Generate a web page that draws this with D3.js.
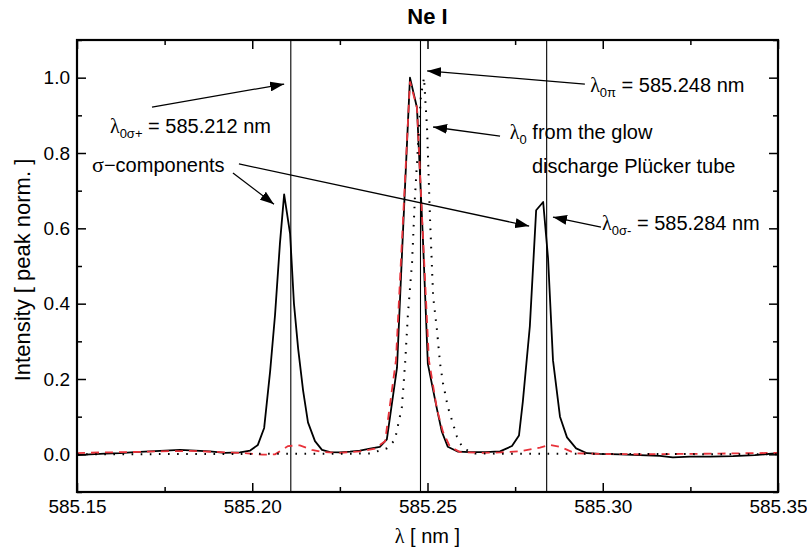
<!DOCTYPE html>
<html>
<head>
<meta charset="utf-8">
<style>
  body { margin: 0; background: #fff; }
  text { font-family: "Liberation Sans", Arial, Helvetica, sans-serif; }
  .greek { font-family: "Liberation Serif", "Times New Roman", serif; }
</style>
</head>
<body>
<script src="https://cdn.jsdelivr.net/npm/d3@7"></script>
<script>
var width = 807, height = 548;
var margin = {top: 40, right: 29, bottom: 56, left: 77};

// measured Zeeman pattern (solid black)
var measWl = [585.1500, 585.1537, 585.1580, 585.1623, 585.1665, 585.1708, 585.1751, 585.1794, 585.1837, 585.1879,
  585.1922, 585.1965, 585.1994, 585.2016, 585.2034, 585.2051, 585.2065, 585.2079, 585.2091, 585.2108,
  585.2119, 585.2131, 585.2145, 585.2159, 585.2179, 585.2199, 585.2222, 585.2250, 585.2279, 585.2307,
  585.2336, 585.2364, 585.2384, 585.2413, 585.2430, 585.2450, 585.2470, 585.2487, 585.2501, 585.2527,
  585.2541, 585.2558, 585.2587, 585.2621, 585.2664, 585.2707, 585.2741, 585.2761, 585.2772, 585.2792,
  585.2810, 585.2830, 585.2844, 585.2858, 585.2878, 585.2898, 585.2924, 585.2955, 585.2992, 585.3049,
  585.3106, 585.3163, 585.3200, 585.3249, 585.3306, 585.3372, 585.3434, 585.3500];
var measInt = [-0.002, 0.000, 0.002, 0.003, 0.006, 0.008, 0.010, 0.012, 0.010, 0.008,
  0.004, 0.005, 0.010, 0.025, 0.070, 0.220, 0.370, 0.560, 0.690, 0.585,
  0.400, 0.280, 0.170, 0.085, 0.035, 0.012, 0.006, 0.005, 0.007, 0.010,
  0.015, 0.020, 0.040, 0.230, 0.590, 1.000, 0.920, 0.570, 0.240, 0.120,
  0.060, 0.020, 0.007, 0.006, 0.006, 0.008, 0.022, 0.050, 0.140, 0.340,
  0.648, 0.670, 0.520, 0.250, 0.100, 0.045, 0.016, 0.003, 0.001, 0.000,
  -0.002, -0.004, -0.008, -0.006, -0.006, -0.005, -0.002, 0.003];

// pi component (red dashed)
var piWl = [585.1500, 585.1566, 585.1651, 585.1737, 585.1822, 585.1908, 585.1979, 585.2028, 585.2065, 585.2102,
  585.2136, 585.2170, 585.2199, 585.2250, 585.2307, 585.2350, 585.2379, 585.2410, 585.2430, 585.2450,
  585.2470, 585.2487, 585.2504, 585.2527, 585.2544, 585.2564, 585.2593, 585.2650, 585.2707, 585.2764,
  585.2821, 585.2850, 585.2878, 585.2921, 585.2992, 585.3106, 585.3220, 585.3334, 585.3500];
var piInt = [0.003, 0.005, 0.006, 0.008, 0.009, 0.006, 0.003, -0.001, 0.000, 0.022,
  0.024, 0.012, 0.006, 0.004, 0.008, 0.015, 0.035, 0.250, 0.620, 0.990,
  0.920, 0.580, 0.250, 0.120, 0.060, 0.020, 0.006, 0.004, 0.005, 0.008,
  0.018, 0.025, 0.020, 0.003, 0.001, 0.000, 0.001, 0.002, 0.004];

// glow discharge Pluecker tube (dotted)
var tubeWl = [585.1500, 585.2336, 585.2384, 585.2407, 585.2427, 585.2436, 585.2444, 585.2456, 585.2464, 585.2473,
  585.2481, 585.2490, 585.2499, 585.2507, 585.2516, 585.2527, 585.2536, 585.2544, 585.2558, 585.2584,
  585.2601, 585.2636, 585.3500];
var tubeInt = [0.000, 0.002, 0.016, 0.038, 0.126, 0.240, 0.370, 0.510, 0.680, 0.820,
  0.950, 1.000, 0.860, 0.630, 0.420, 0.330, 0.240, 0.190, 0.126, 0.047,
  0.016, 0.002, 0.000];

var markWl = [585.211, 585.248, 585.284];
var xTicks = [585.15, 585.20, 585.25, 585.30, 585.35];
var xMinor = [585.175, 585.225, 585.275, 585.325];
var yTicks = [0.0, 0.2, 0.4, 0.6, 0.8, 1.0];
var yMinor = [-0.1, 0.1, 0.3, 0.5, 0.7, 0.9, 1.1];

var svg = d3.select('body').append('svg').attr('width', width).attr('height', height);

var x = d3.scaleLinear().domain([585.15, 585.35]).range([margin.left, width - margin.right]);
var y = d3.scaleLinear().domain([-0.1, 1.1]).range([height - margin.bottom, margin.top]);

var defs = svg.append('defs');
defs.append('clipPath').attr('id', 'clip').append('rect')
  .attr('x', margin.left).attr('y', margin.top)
  .attr('width', width - margin.left - margin.right)
  .attr('height', height - margin.top - margin.bottom);
defs.append('marker').attr('id', 'head')
  .attr('viewBox', '0 0 14 10').attr('refX', 14).attr('refY', 5)
  .attr('markerWidth', 14).attr('markerHeight', 10)
  .attr('markerUnits', 'userSpaceOnUse').attr('orient', 'auto')
  .append('path').attr('d', 'M0,0 L14,5 L0,10 Z').attr('fill', '#000');

// axes, ticks pointing inwards
var yBot = height - margin.bottom, yTop = margin.top;
var xLeft = margin.left, xRight = width - margin.right;

function styleAxis(g) {
  g.select('.domain').remove();
  g.selectAll('line').attr('stroke', '#000').attr('stroke-width', 1.5);
  g.selectAll('text').attr('font-size', 19).attr('fill', '#000')
    .attr('font-family', '"Liberation Sans", Arial, sans-serif');
}
svg.append('g').attr('transform', 'translate(0,' + yBot + ')')
  .call(d3.axisBottom(x).tickValues(xTicks).tickSize(-9).tickPadding(8).tickFormat(d3.format('.2f')))
  .call(styleAxis);
svg.append('g').attr('transform', 'translate(0,' + yBot + ')')
  .call(d3.axisBottom(x).tickValues(xMinor).tickSize(-5).tickFormat(''))
  .call(styleAxis);
svg.append('g').attr('transform', 'translate(0,' + yTop + ')')
  .call(d3.axisTop(x).tickValues(xTicks).tickSize(-9).tickFormat(''))
  .call(styleAxis);
svg.append('g').attr('transform', 'translate(0,' + yTop + ')')
  .call(d3.axisTop(x).tickValues(xMinor).tickSize(-5).tickFormat(''))
  .call(styleAxis);
svg.append('g').attr('transform', 'translate(' + xLeft + ',0)')
  .call(d3.axisLeft(y).tickValues(yTicks).tickSize(-9).tickPadding(7).tickFormat(d3.format('.1f')))
  .call(styleAxis);
svg.append('g').attr('transform', 'translate(' + xLeft + ',0)')
  .call(d3.axisLeft(y).tickValues(yMinor).tickSize(-5).tickFormat(''))
  .call(styleAxis);
svg.append('g').attr('transform', 'translate(' + xRight + ',0)')
  .call(d3.axisRight(y).tickValues(yTicks).tickSize(-9).tickFormat(''))
  .call(styleAxis);
svg.append('g').attr('transform', 'translate(' + xRight + ',0)')
  .call(d3.axisRight(y).tickValues(yMinor).tickSize(-5).tickFormat(''))
  .call(styleAxis);

var plot = svg.append('g').attr('clip-path', 'url(#clip)');

// vertical marker lines
plot.selectAll('.mark').data(markWl).join('line')
  .attr('x1', d => x(d)).attr('x2', d => x(d))
  .attr('y1', yTop).attr('y2', yBot)
  .attr('stroke', '#000').attr('stroke-width', 1.1);

var line = d3.line().x(d => x(d[0])).y(d => y(d[1]));

plot.append('path').datum(d3.zip(measWl, measInt)).attr('d', line)
  .attr('fill', 'none').attr('stroke', '#000').attr('stroke-width', 1.8)
  .attr('stroke-linejoin', 'round');
plot.append('path').datum(d3.zip(piWl, piInt)).attr('d', line)
  .attr('fill', 'none').attr('stroke', '#e8323a').attr('stroke-width', 1.8)
  .attr('stroke-dasharray', '8,6');
plot.append('path').datum(d3.zip(tubeWl, tubeInt)).attr('d', line)
  .attr('fill', 'none').attr('stroke', '#000').attr('stroke-width', 2)
  .attr('stroke-dasharray', '1.6,7.5');

// frame
svg.append('rect').attr('x', xLeft).attr('y', yTop)
  .attr('width', xRight - xLeft).attr('height', yBot - yTop)
  .attr('fill', 'none').attr('stroke', '#000').attr('stroke-width', 2.2);

// titles
svg.append('text').attr('x', (xLeft + xRight) / 2).attr('y', 24)
  .attr('text-anchor', 'middle').attr('font-size', 22).attr('font-weight', 'bold').text('Ne I');

var xt = svg.append('text').attr('x', (xLeft + xRight) / 2).attr('y', 543)
  .attr('text-anchor', 'middle').attr('font-size', 20);
xt.append('tspan').attr('class', 'greek').text('λ');
xt.append('tspan').text(' [ nm ]');

svg.append('text').attr('transform', 'translate(30,' + ((yTop + yBot) / 2 + 4) + ') rotate(-90)')
  .attr('text-anchor', 'middle').attr('font-size', 22).text('Intensity [ peak norm. ]');

// annotations (positions in data units)
function label(px, py, greek, sub, rest) {
  var t = svg.append('text').attr('x', x(px)).attr('y', y(py)).attr('font-size', 20);
  if (greek) {
    t.append('tspan').attr('class', 'greek').text(greek);
    t.append('tspan').attr('font-size', 13).attr('dy', 5).text(sub);
    t.append('tspan').attr('dy', -5).text(rest);
  } else {
    t.text(rest);
  }
  return t;
}
label(585.1594, 0.853, 'λ', '0σ+', ' = 585.212 nm');
var sc = svg.append('text').attr('x', x(585.1543)).attr('y', y(0.749)).attr('font-size', 20);
sc.append('tspan').attr('class', 'greek').attr('font-size', 22).text('σ');
sc.append('tspan').text('\u2212components');
label(585.2964, 0.962, 'λ', '0π', ' = 585.248 nm');
label(585.2735, 0.837, 'λ', '0', ' from the glow');
label(585.2798, 0.747, null, null, 'discharge Plücker tube');
label(585.2998, 0.595, 'λ', '0σ-', ' = 585.284 nm');

var arrows = [
  [585.1714, 0.922, 585.2091, 0.983],
  [585.1945, 0.747, 585.2062, 0.664],
  [585.1962, 0.771, 585.2790, 0.606],
  [585.2949, 0.983, 585.2499, 1.018],
  [585.2707, 0.845, 585.2516, 0.869],
  [585.2995, 0.603, 585.2858, 0.630]
];
svg.selectAll('.arrow').data(arrows).join('line')
  .attr('x1', d => x(d[0])).attr('y1', d => y(d[1]))
  .attr('x2', d => x(d[2])).attr('y2', d => y(d[3]))
  .attr('stroke', '#000').attr('stroke-width', 1.3)
  .attr('marker-end', 'url(#head)');
</script>
</body>
</html>
